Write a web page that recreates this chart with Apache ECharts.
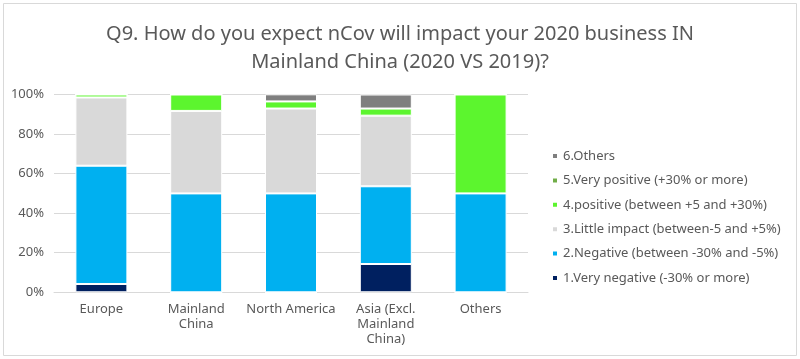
<!DOCTYPE html>
<html>
<head>
<meta charset="utf-8">
<script src="https://cdn.jsdelivr.net/npm/echarts@6/dist/echarts.min.js"></script>
<style>html,body{margin:0;padding:0;background:#fff}#c{width:800px;height:359px}</style>
</head>
<body>
<div id="c"></div>
<script>
const categories = ['Europe', 'Mainland\nChina', 'North America', 'Asia (Excl.\nMainland\nChina)', 'Others'];
const seriesNames = [
  '1.Very negative (-30% or more)',
  '2.Negative (between -30% and -5%)',
  '3.Little impact (between-5 and +5%)',
  '4.positive (between +5 and +30%)',
  '5.Very positive (+30% or more)',
  '6.Others'
];
const veryNegative = [4.2, 0, 0, 14.3, 0];
const negative = [59.8, 50, 50, 39.3, 50];
const littleImpact = [34.5, 41.7, 42.9, 35.7, 0];
const positive = [1.5, 8.3, 3.6, 3.6, 50];
const veryPositive = [0, 0, 0, 0, 0];
const others = [0, 0, 3.6, 7.1, 0];
const yTicks = [0, 20, 40, 60, 80, 100];
const colors = ['#002060', '#00b0f0', '#d9d9d9', '#5cf52e', '#70ad47', '#7f7f7f'];

const values = [veryNegative, negative, littleImpact, positive, veryPositive, others];
const chart = echarts.init(document.getElementById('c'), null, {renderer: 'canvas'});
const font = '"Noto Sans", "DejaVu Sans", sans-serif';
chart.setOption({
  animation: false,
  textStyle: {fontFamily: font},
  graphic: [{type: 'rect', shape: {x: 3.5, y: 3.5, width: 793, height: 352}, style: {fill: null, stroke: '#d9d9d9', lineWidth: 1}}],
  title: {
    text: 'Q9. How do you expect nCov will impact your 2020 business IN\nMainland China (2020 VS 2019)?',
    left: 'center', top: 15,
    textStyle: {fontFamily: font, fontSize: 20, fontWeight: 'normal', color: '#595959', lineHeight: 28}
  },
  legend: {
    orient: 'vertical', left: 546, top: 144,
    itemWidth: 6, itemHeight: 6, itemGap: 10.4,
    icon: 'rect',
    data: seriesNames.slice().reverse(),
    textStyle: {fontFamily: font, fontSize: 13, color: '#595959', lineHeight: 14}
  },
  grid: {left: 54, right: 272, top: 94.5, bottom: 66.7, containLabel: false},
  xAxis: {
    type: 'category', data: categories,
    axisLine: {lineStyle: {color: '#d9d9d9'}},
    axisTick: {show: false},
    axisLabel: {fontFamily: font, fontSize: 13, color: '#595959', lineHeight: 15, margin: 9, interval: 0}
  },
  yAxis: {
    type: 'value', min: 0, max: 100, interval: 20,
    axisLine: {show: false}, axisTick: {show: false},
    splitLine: {lineStyle: {color: '#d9d9d9'}},
    axisLabel: {fontFamily: font, fontSize: 13, color: '#595959', margin: 10, formatter: v => yTicks.includes(v) ? v + '%' : ''}
  },
  series: seriesNames.map((n, i) => ({
    name: n, type: 'bar', stack: 'total', barWidth: 52,
    itemStyle: {color: colors[i], borderColor: '#fff', borderWidth: 1},
    data: values[i]
  }))
});
</script>
</body>
</html>
